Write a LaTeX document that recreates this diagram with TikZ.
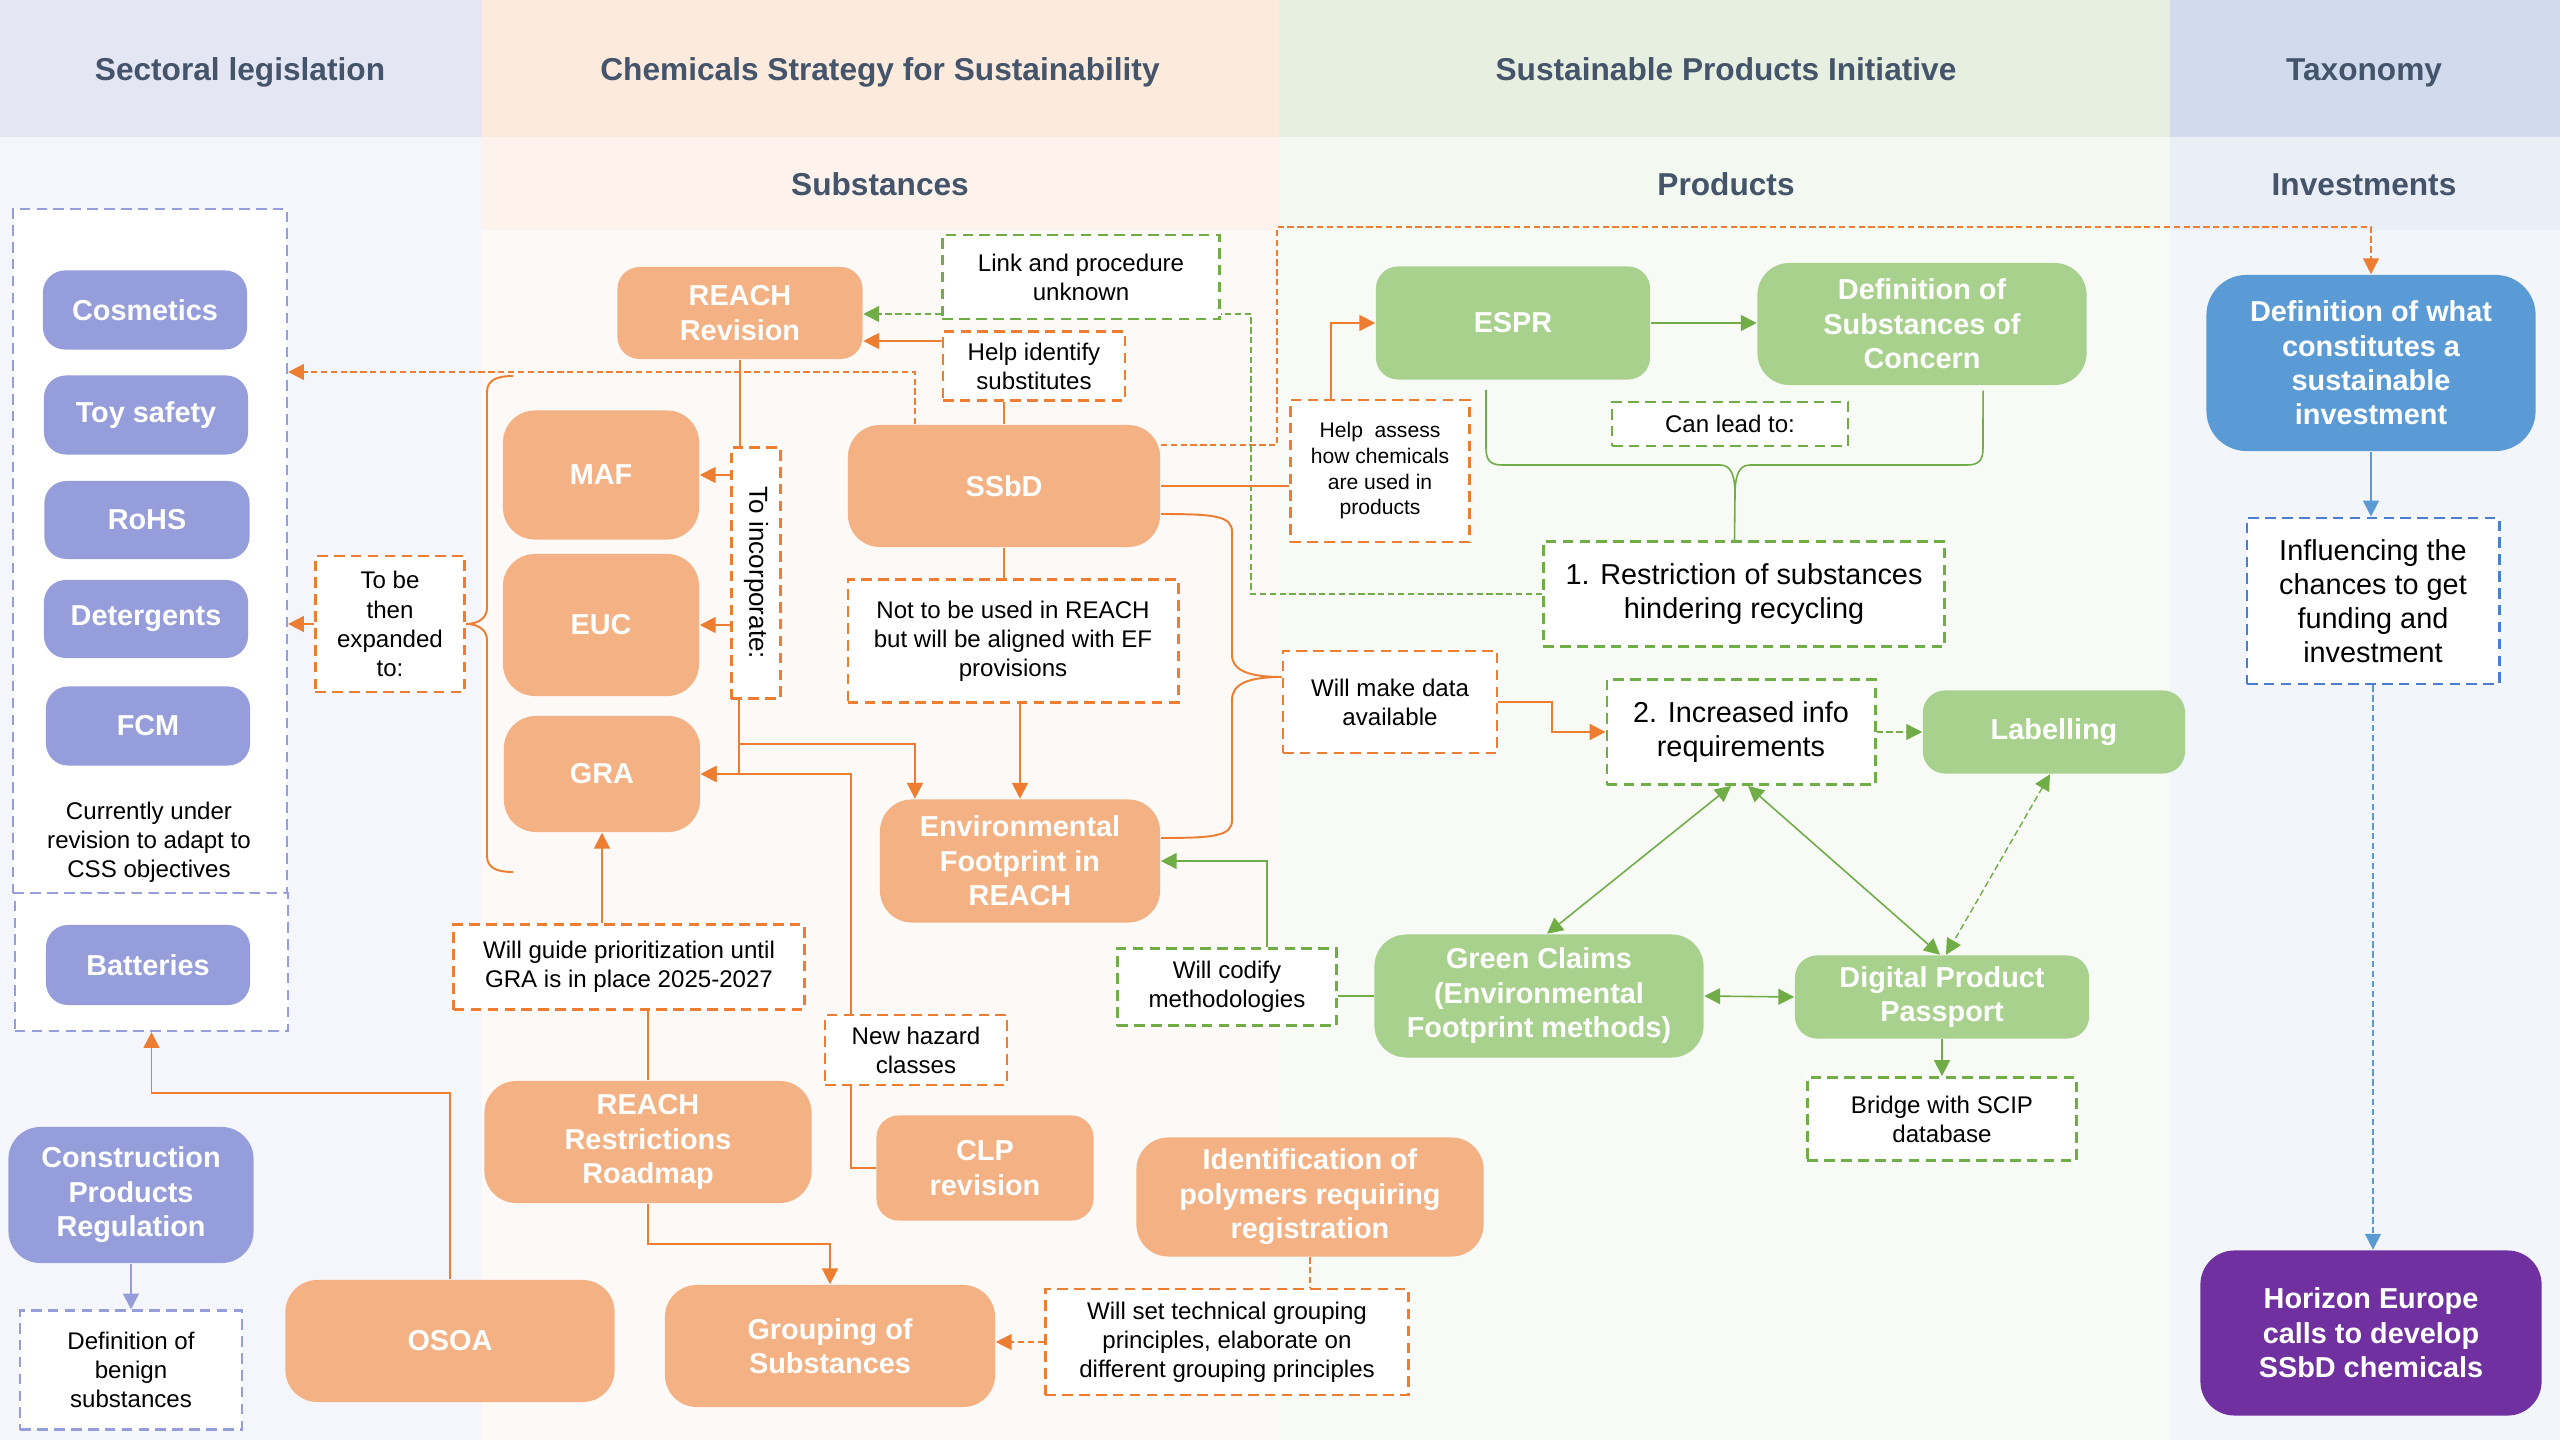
\documentclass[tikz,border=0pt]{standalone}
\usepackage{fontspec}
\setmainfont{Liberation Sans}
\usepackage{graphicx}
\usetikzlibrary{positioning, arrows.meta, shapes, calc}

\definecolor{secthead}{HTML}{E4E6F4}
\definecolor{sectbody}{HTML}{F5F6FB}
\definecolor{csshead}{HTML}{FCEADD}
\definecolor{csssub}{HTML}{FDF3EC}
\definecolor{cssbody}{HTML}{FDF9F6}
\definecolor{spihead}{HTML}{E7F0E0}
\definecolor{spisub}{HTML}{F3F8F0}
\definecolor{spibody}{HTML}{F8FAF5}
\definecolor{taxhead}{HTML}{D0DCEE}
\definecolor{taxsub}{HTML}{E9EEF7}
\definecolor{taxbody}{HTML}{F2F5FA}
\definecolor{lavbox}{HTML}{959DDA}
\definecolor{orbox}{HTML}{F4B183}
\definecolor{orline}{HTML}{ED7D31}
\definecolor{grbox}{HTML}{A9D18E}
\definecolor{grline}{HTML}{70AD47}
\definecolor{taxbox}{HTML}{5B9BD5}
\definecolor{blline}{HTML}{5B9BD5}
\definecolor{bldash}{HTML}{4A7FCF}
\definecolor{horbox}{HTML}{7030A0}
\definecolor{titlegrey}{HTML}{44546A}

\begin{document}
\begin{tikzpicture}[x=0.01cm, y=-0.01cm, >={Triangle[length=4.5pt,width=4.5pt]},
  sz/.style 2 args={minimum width=#1cm, minimum height=#2cm},
  box/.style={rounded corners=0.22cm, inner sep=0pt, align=center, text=white, font=\bfseries\fontsize{8.2}{9.8}\selectfont},
  rbig/.style={rounded corners=0.32cm},
  pbox/.style={box, fill=lavbox},
  obox/.style={box, fill=orbox},
  gbox/.style={box, fill=grbox},
  tbox/.style={box, fill=taxbox, rounded corners=0.4cm},
  hbox/.style={box, fill=horbox, rounded corners=0.34cm},
  note/.style={fill=white, inner sep=0pt, align=center, line width=0.8pt, dash pattern=on 3pt off 1.8pt, font=\fontsize{6.85}{8.3}\selectfont},
  onote/.style={note, draw=orline},
  gnote/.style={note, draw=grline},
  bnote/.style={note, draw=bldash},
  lnote/.style={note, draw=lavbox, line width=0.6pt},
  bignote/.style={font=\fontsize{8.2}{9.7}\selectfont},
  plain/.style={align=center, inner sep=0pt, font=\fontsize{6.85}{8.3}\selectfont},
  title/.style={anchor=base, text=titlegrey, font=\bfseries\fontsize{9}{11}\selectfont},
  oline/.style={draw=orline, line width=0.55pt},
  gline/.style={draw=grline, line width=0.45pt},
  bline/.style={draw=blline, line width=0.45pt},
  lline/.style={draw=lavbox, line width=0.55pt},
  fine dashes/.style={line width=0.4pt, dash pattern=on 1.8pt off 1pt},
  odline/.style={oline, fine dashes},
  gdline/.style={gline, fine dashes},
  bdline/.style={bline, fine dashes}]

\useasboundingbox (0,0) rectangle (2560,1440);
\fill[secthead] (0,0) rectangle (482,137);
\fill[sectbody] (0,137) rectangle (482,1440);
\fill[csshead] (482,0) rectangle (1279,137);
\fill[csssub] (482,137) rectangle (1279,230);
\fill[cssbody] (482,230) rectangle (1279,1440);
\fill[spihead] (1279,0) rectangle (2170,137);
\fill[spisub] (1279,137) rectangle (2170,230);
\fill[spibody] (1279,230) rectangle (2170,1440);
\fill[taxhead] (2170,0) rectangle (2560,137);
\fill[taxsub] (2170,137) rectangle (2560,230);
\fill[taxbody] (2170,230) rectangle (2560,1440);

\node[title] (tsect) at (240,81) {Sectoral legislation};
\node[title] (tcss) at (880,81) {Chemicals Strategy for Sustainability};
\node[title] (tspi) at (1726,81) {Sustainable Products Initiative};
\node[title] (ttax) at (2364,81) {Taxonomy};
\node[title] (tsubst) at (880,196) {Substances};
\node[title] (tprod) at (1726,196) {Products};
\node[title] (tinv) at (2364,196) {Investments};

\node[lnote, sz={2.74}{6.84}] (sectgrp) at (150,551) {};
\node[lnote, sz={2.73}{1.38}] (battgrp) at (151.5,962) {};

\node[pbox, sz={2.04}{0.79}] (cosm) at (145,310) {Cosmetics};
\node[pbox, sz={2.04}{0.79}] (toy) at (146,415) {Toy safety};
\node[pbox, sz={2.05}{0.78}] (rohs) at (147,520) {RoHS};
\node[pbox, sz={2.04}{0.78}] (deter) at (146,619) {Detergents};
\node[pbox, sz={2.04}{0.79}] (fcm) at (148,726) {FCM};
\node[plain] (curr) at (149,842) {Currently under\\revision to adapt to\\CSS objectives};
\node[pbox, sz={2.04}{0.80}] (batt) at (148,965) {Batteries};
\node[pbox, rbig, sz={2.45}{1.36}] (cpr) at (131,1195) {Construction\\Products\\Regulation};
\node[lnote, sz={2.21}{1.19}] (benign) at (131,1370) {Definition of\\benign\\substances};

\node[obox, rbig, sz={3.29}{1.22}] (osoa) at (450,1341) {OSOA};
\node[obox, rbig, sz={3.27}{1.22}] (rrr) at (648,1142) {REACH\\Restrictions\\Roadmap};
\node[onote, sz={3.50}{0.85}] (guide) at (629,967) {Will guide prioritization until\\GRA is in place 2025-2027};
\node[obox, rbig, sz={1.96}{1.16}] (gra) at (602,774) {GRA};
\node[obox, rbig, sz={1.96}{1.29}] (maf) at (601,475) {MAF};
\node[obox, rbig, sz={1.96}{1.42}] (euc) at (601,625) {EUC};
\node[onote, sz={1.49}{1.36}] (expand) at (390,624) {To be\\then\\expanded\\to:};
\node[onote, sz={0.49}{2.51}, font=\fontsize{7.4}{9}\selectfont] (incorp) at (756,573) {\rotatebox{-90}{To incorporate:}};
\node[obox, sz={2.45}{0.92}] (reachrev) at (740,313) {REACH\\Revision};
\node[gnote, sz={2.77}{0.84}] (link) at (1081,277) {Link and procedure\\unknown};
\node[onote, sz={1.82}{0.69}] (helpid) at (1034,366) {Help identify\\substitutes};
\node[obox, rbig, sz={3.12}{1.22}] (ssbd) at (1004,486) {SSbD};
\node[onote, sz={3.30}{1.23}] (notused) at (1013,641) {Not to be used in REACH\\but will be aligned with EF\\provisions};
\node[obox, rbig, sz={2.80}{1.23}] (ef) at (1020,861) {Environmental\\Footprint in\\REACH};
\node[onote, sz={1.82}{0.70}] (hazard) at (916,1050) {New hazard\\classes};
\node[obox, sz={2.17}{1.05}] (clp) at (985,1168) {CLP\\revision};
\node[obox, rbig, sz={3.30}{1.22}] (grouping) at (830,1346) {Grouping of\\Substances};
\node[obox, rbig, sz={3.47}{1.19}] (polymers) at (1310,1197) {Identification of\\polymers requiring\\registration};
\node[onote, sz={3.63}{1.06}] (willset) at (1227,1342) {Will set technical grouping\\principles, elaborate on\\different grouping principles};

\node[gbox, sz={2.74}{1.13}] (espr) at (1513,323) {ESPR};
\node[gbox, rbig, sz={3.29}{1.22}] (soc) at (1922,324) {Definition of\\Substances of\\Concern};
\node[gnote, sz={2.36}{0.44}] (canlead) at (1730,424) {Can lead to:};
\node[onote, sz={1.79}{1.42}, font=\fontsize{6}{7.3}\selectfont] (helpassess) at (1380,471) {Help~ assess\\how chemicals\\are used in\\products};
\node[gnote, bignote, sz={4.01}{1.05}] (restr) at (1744,594) {1. Restriction of substances\\hindering recycling};
\node[onote, sz={2.14}{1.02}] (willmake) at (1390,702) {Will make data\\available};
\node[gnote, bignote, sz={2.68}{1.05}] (incr) at (1741,732) {2. Increased info\\requirements};
\node[gbox, sz={2.62}{0.83}] (label) at (2054,732) {Labelling};
\node[gnote, sz={2.19}{0.77}] (codify) at (1227,987) {Will codify\\methodologies};
\node[gbox, rbig, sz={3.29}{1.23}] (gc) at (1539,996) {Green Claims\\(Environmental\\Footprint methods)};
\node[gbox, sz={2.94}{0.83}] (dpp) at (1942,997) {Digital Product\\Passport};
\node[gnote, sz={2.69}{0.83}] (scip) at (1942,1119) {Bridge with SCIP\\database};

\node[tbox, sz={3.29}{1.76}] (defwhat) at (2371,363) {Definition of what\\constitutes a\\sustainable\\investment};
\node[bnote, bignote, sz={2.52}{1.66}] (influ) at (2373,601) {Influencing the\\chances to get\\funding and\\investment};
\node[hbox, sz={3.41}{1.65}] (horizon) at (2371,1333) {Horizon Europe\\calls to develop\\SSbD chemicals};

\coordinate (c1) at (915,372);
\coordinate (c2) at (1277,227);
\coordinate (c3) at (1251,314);
\coordinate (c7) at (739,774);
\coordinate (c8) at (739,744);
\coordinate (c15) at (1552,702);
\coordinate (c26) at (648,1244);
\coordinate (c29) at (151.5,1093);

\draw[odline,->] (ssbd.north -| c1) -- (c1) -- (sectgrp.east |- c1);
\draw[odline,->] ([yshift=0.41cm]ssbd.east) -| (c2) -| (defwhat.north);
\draw[gdline] (restr.west) -| (c3) -- (link.east |- c3);
\draw[gdline,->] (link.west |- c3) -- (reachrev.east |- c3);
\draw[oline] (ssbd.north) -- (ssbd.north |- helpid.south);
\draw[oline,->] ([yshift=0.25cm]helpid.west) -- ([yshift=-0.28cm]reachrev.east);
\draw[oline] (reachrev.south) -- (reachrev.south |- incorp.north);
\draw[oline,->] (incorp.west |- maf.east) -- (maf.east);
\draw[oline,->] (incorp.west |- euc.east) -- (euc.east);
\draw[oline,->] (incorp.south -| c7) |- (gra.east);
\draw[oline,->] (c8) -| ([xshift=-1.05cm]ef.north);
\draw[oline,->] (notused.south -| ef.north) -- (ef.north);
\draw[oline] (ssbd.south) -- (ssbd.south |- notused.north);
\draw[oline] (ssbd.east) -- (ssbd.east -| helpassess.west);
\draw[oline,->] ([xshift=-0.49cm]helpassess.north) |- (espr.west);
\draw[gline,->] (espr.east) -- (espr.east -| soc.west);
\draw[oline,->] (willmake.east) -- (c15) |- (incr.west);
\draw[gdline,->] (incr.east) -- (label.west);
\draw[oline] ([yshift=-0.28cm]ssbd.east) .. controls (1215,514) and (1232,516) .. (1232,532) -- (1232,655) .. controls (1232,670) and (1248,677) .. ([yshift=0.25cm]willmake.west);
\draw[oline] ([yshift=0.23cm]ef.east) .. controls (1215,838) and (1232,836) .. (1232,820) -- (1232,700) .. controls (1232,684) and (1248,677) .. ([yshift=0.25cm]willmake.west);
\draw[gline] ([xshift=-0.27cm,yshift=-0.1cm]espr.south) -- (1486,448) .. controls (1486,460) and (1490,465) .. (1502,465) -- (1720,465) .. controls (1731,465) and (1735,475) .. (1735,495) -- ([xshift=-0.095cm]restr.north);
\draw[gline] ([xshift=0.61cm,yshift=-0.05cm]soc.south) -- (1983,448) .. controls (1983,460) and (1979,465) .. (1967,465) -- (1750,465) .. controls (1739,465) and (1735,475) .. (1735,495);
\draw[gline] (gc.west) -- (gc.west -| codify.east);
\draw[gline,->] ([xshift=0.4cm]codify.north) |- (ef.east);
\draw[gline,<->] (gc.east) -- (dpp.west);
\draw[gline,<->] ([xshift=-0.1cm]incr.south) -- ([xshift=0.08cm]gc.north);
\draw[gline,<->] ([xshift=0.07cm]incr.south) -- ([xshift=-0.02cm]dpp.north);
\draw[gdline,<->] ([xshift=-0.04cm]label.south) -- ([xshift=0.04cm]dpp.north);
\draw[gline,->] (dpp.south) -- (scip.north);
\draw[odline] (polymers.south) -- (polymers.south |- willset.north);
\draw[odline,->] (willset.west) -- (willset.west -| grouping.east);
\draw[oline,->] (rrr.south) -- (c26) -| (grouping.north);
\draw[oline] (rrr.north) -- (rrr.north |- guide.south);
\draw[oline,->] (guide.north -| gra.south) -- (gra.south);
\draw[oline,->] (osoa.north) |- (c29) -- (battgrp.south);
\draw[lline,->] (cpr.south) -- (benign.north);
\draw[oline,->] (expand.west) -- (expand.west -| sectgrp.east);
\draw[oline] (513,376) .. controls (497,376) and (487,380) .. (487,392) -- (487,608) .. controls (487,618) and (478,624) .. (expand.east) .. controls (478,624) and (487,630) .. (487,640) -- (487,856) .. controls (487,868) and (497,872) .. (513,872);
\draw[oline] (clp.west) -| ([xshift=-0.65cm]hazard.south);
\draw[oline,->] ([xshift=-0.65cm]hazard.north) |- (gra.east);
\draw[bline,->] (defwhat.south) -- (defwhat.south |- influ.north);
\draw[bdline,->] (influ.south) -- (influ.south |- horizon.north);
\end{tikzpicture}
\end{document}
